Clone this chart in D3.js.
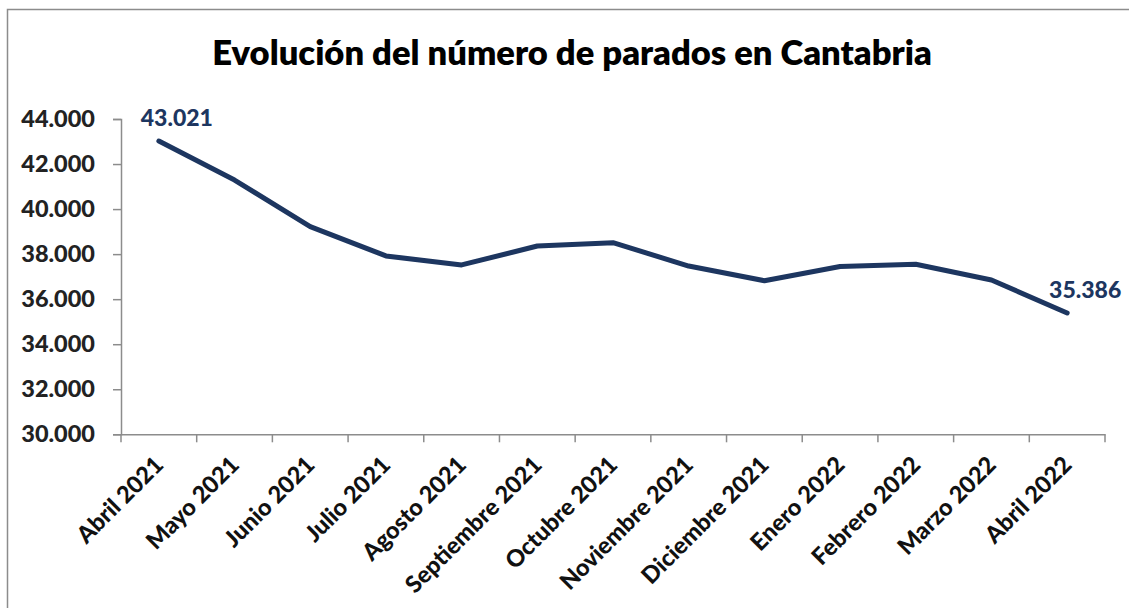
<!DOCTYPE html>
<html><head><meta charset="utf-8">
<script src="https://cdn.jsdelivr.net/npm/d3@7"></script>
<style>body{margin:0;background:#fff}svg{display:block}</style>
</head><body>
<script>
const categories = ["Abril 2021","Mayo 2021","Junio 2021","Julio 2021","Agosto 2021","Septiembre 2021","Octubre 2021","Noviembre 2021","Diciembre 2021","Enero 2022","Febrero 2022","Marzo 2022","Abril 2022"];
const parados = [43021, 41290, 39220, 37920, 37520, 38360, 38510, 37470, 36820, 37450, 37550, 36850, 35386];
const yTicks = [30000, 32000, 34000, 36000, 38000, 40000, 42000, 44000];
const labeledIdx = [0, 12];
const title = "Evolución del número de parados en Cantabria";

const W = 1129, H = 608;
const fmt = v => d3.format(",")(v).replace(/,/g, ".");
const svg = d3.select("body").append("svg").attr("width", W).attr("height", H);
const font = "Lato, 'Open Sans', sans-serif";

svg.append("rect").attr("x", 7.5).attr("y", 9.5).attr("width", W + 20).attr("height", H + 20)
  .attr("fill", "none").attr("stroke", "#8c8c8c").attr("stroke-width", 1.5);

const m = {left: 121, right: 1105, top: 119, bottom: 434.3};
const x = d3.scaleBand().domain(categories).range([m.left, m.right]);
const y = d3.scaleLinear().domain([30000, 44000]).range([m.bottom, m.top]);

// title
const t = svg.append("text").attr("x", 572).attr("y", 65).attr("text-anchor", "middle")
  .attr("font-family", font).attr("font-weight", 800).attr("font-size", 31).attr("fill", "#000").text(title);
const tw = t.node().getComputedTextLength();
t.attr("font-size", 31 * 720 / tw);

// y axis
const ya = svg.append("g").attr("transform", `translate(${m.left},0)`)
  .call(d3.axisLeft(y).tickValues(yTicks).tickFormat(fmt).tickSize(8).tickPadding(18));
ya.select(".domain").attr("stroke", "#8c8c8c").attr("stroke-width", 1.5);
ya.selectAll(".tick line").attr("stroke", "#8c8c8c").attr("stroke-width", 1.5);
ya.selectAll(".tick text").attr("font-family", font).attr("font-weight", 900)
  .attr("font-size", 23.5).attr("fill", "#222");

// x axis
const xa = svg.append("g").attr("transform", `translate(0,${m.bottom})`)
  .call(d3.axisBottom(x).tickSize(0).tickSizeOuter(0));
xa.select(".domain").attr("stroke", "#8c8c8c").attr("stroke-width", 1.5);
const bounds = categories.map(c => x(c)).concat([m.right]);
xa.selectAll(".bt").data(bounds).enter().append("line").attr("class", "bt")
  .attr("x1", d => d).attr("x2", d => d).attr("y1", 0).attr("y2", 8)
  .attr("stroke", "#8c8c8c").attr("stroke-width", 1.5);
xa.selectAll(".tick text")
  .attr("font-family", font).attr("font-weight", 900).attr("font-size", 23.5).attr("fill", "#111")
  .attr("text-anchor", "end").attr("dy", 0).attr("y", 0)
  .attr("transform", "translate(6,32) rotate(-45)");

// line
const line = d3.line().x((d, i) => x(categories[i]) + x.bandwidth() / 2).y(d => y(d));
svg.append("path").datum(parados).attr("d", line).attr("fill", "none")
  .attr("stroke", "#1d3660").attr("stroke-width", 5).attr("stroke-linejoin", "round").attr("stroke-linecap", "round");

// data labels
svg.selectAll(".dl").data(labeledIdx).enter().append("text").attr("class", "dl")
  .attr("x", i => x(categories[i]) + x.bandwidth() / 2 + 18)
  .attr("y", i => y(parados[i]) - 15)
  .attr("text-anchor", "middle")
  .attr("font-family", font).attr("font-weight", 900).attr("font-size", 23).attr("fill", "#1d3660")
  .text(i => fmt(parados[i]));
</script>
</body></html>
